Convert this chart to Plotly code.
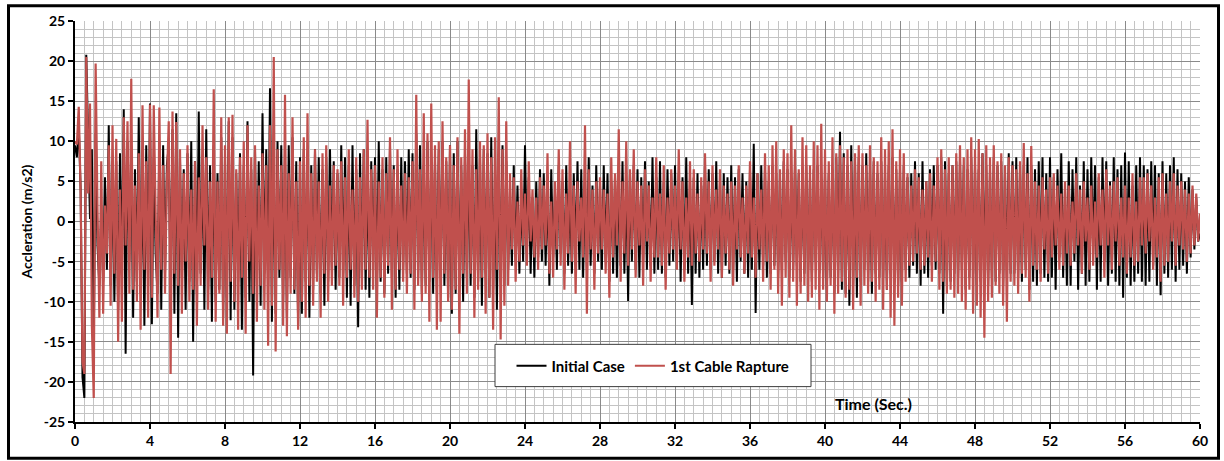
import numpy as np
import plotly.graph_objects as go

# Sampling step of the acceleration records (s)
dt = 0.1

# Acceleration (m/s2), initial case, one row per second of record
initial_case = [
    9.5, 8.0, 12.0, 4.0, -19.4, -22.0, 20.8, 11.0, 0.3, 9.0,
    -15.3, 11.0, -3.0, -8.0, 2.0, -7.5, 5.5, -6.0, 12.0, -8.0,
    6.0, -10.0, 7.5, -11.0, 8.5, -6.0, 14.0, -16.5, 10.0, -5.0,
    9.5, -12.0, 6.5, -7.5, 13.0, -9.0, 6.0, -13.0, 9.5, -8.0,
    14.7, -12.8, 8.0, -4.0, -9.0, 10.0, -11.0, 9.5, -6.5, 7.0,
    9.5, -8.5, 11.5, -11.5, 13.5, -14.5, 8.0, -7.0, 6.5, -11.0,
    8.5, -7.5, 10.0, -15.0, 7.5, -9.0, 13.7, -6.5, 8.0, -11.0,
    11.5, -8.5, 7.0, -12.5, 9.5, -10.0, 6.0, -8.5, 10.5, -12.0,
    8.0, -9.5, 12.5, -12.3, 10.5, -11.0, 6.0, -7.5, 8.5, -13.5,
    7.0, -9.5, 12.5, -10.0, 6.5, -19.2, 9.0, -8.0, 7.5, -10.5,
    13.5, -6.5, 9.0, -8.0, 16.6, -12.5, 8.0, -11.5, 10.0, -7.0,
    9.5, -10.0, 8.5, -12.0, 9.5, -7.0, 10.5, -9.0, 7.5, -13.0,
    8.0, -11.5, 9.0, -7.5, 8.5, -12.0, 7.0, -8.5, 9.0, -6.5,
    8.0, -9.0, 6.5, -10.5, 8.0, -7.5, 9.0, -6.0, 7.5, -8.5,
    6.0, -7.0, 9.5, -6.5, 8.0, -9.5, 7.0, -10.5, 9.5, -8.0,
    6.5, -13.2, 8.5, -7.0, 9.0, -8.5, 6.5, -9.5, 7.5, -6.0,
    8.0, -8.5, 10.0, -7.5, 6.5, -9.0, 8.0, -6.5, 9.5, -7.0,
    7.0, -9.5, 6.5, -8.5, 8.0, -6.0, 7.5, -6.5, 9.0, -7.0,
    8.5, -8.5, 11.0, -7.0, 9.5, -9.0, 7.0, -8.0, 10.0, -7.5,
    8.0, -9.0, 7.5, -8.5, 9.0, -7.0, 10.0, -8.0, 7.5, -9.5,
    9.5, -11.5, 8.5, -9.0, 10.0, -8.0, 7.0, -10.0, 8.5, -7.0,
    8.5, -8.0, 7.0, -9.5, 11.5, -7.5, 8.0, -10.5, 9.0, -6.5,
    8.5, -9.5, 10.5, -8.5, 6.5, -11.0, 8.0, -7.5, 9.5, -8.0,
    7.5, -6.0, 4.0, -5.5, 7.0, -5.0, 4.5, -6.5, 3.5, -5.0,
    9.5, -4.0, 5.5, -6.5, 3.0, -7.0, 5.0, -4.5, 6.5, -5.0,
    6.0, -5.5, 4.5, -8.0, 6.5, -4.5, 3.5, -6.0, 7.0, -4.0,
    5.0, -6.5, 7.0, -5.5, 4.0, -6.5, 6.0, -4.5, 7.5, -6.0,
    6.5, -7.0, 5.0, -6.0, 8.0, -5.5, 4.5, -6.5, 7.0, -5.0,
    4.5, -6.0, 7.0, -5.0, 6.0, -7.5, 5.0, -6.5, 5.5, -7.0,
    6.0, -5.5, 7.5, -6.5, 5.0, -9.9, 6.0, -5.0, 7.0, -6.0,
    6.5, -7.0, 5.5, -5.0, 7.5, -6.0, 5.0, -5.5, 8.0, -6.5,
    5.5, -6.0, 7.5, -6.5, 5.0, -7.0, 6.5, -5.5, 6.0, -5.0,
    7.0, -5.0, 6.0, -7.5, 5.5, -6.0, 8.0, -6.5, 5.5, -10.4,
    5.5, -6.5, 6.0, -7.0, 4.5, -6.0, 7.0, -5.5, 6.5, -6.0,
    6.0, -5.0, 7.5, -6.5, 5.0, -7.0, 6.0, -5.5, 5.5, -6.5,
    7.0, -6.0, 5.5, -7.5, 6.5, -5.0, 6.0, -6.5, 5.0, -7.0,
    6.5, -6.0, 9.7, -11.4, 6.0, -6.0, 7.0, -5.5, 6.5, -7.0,
    5.0, -6.5, 7.0, -5.5, 6.0, -7.0, 5.5, -6.0, 7.5, -5.0,
    6.5, -7.0, 5.0, -6.0, 7.0, -5.5, 6.0, -7.5, 5.5, -6.5,
    7.0, -6.0, 5.5, -7.5, 6.5, -5.0, 7.0, -6.5, 5.0, -7.0,
    6.0, -8.5, 6.0, -7.0, 6.5, -9.0, 8.0, -7.0, 11.2, -8.5,
    8.5, -9.0, 7.0, -10.5, 9.5, -8.0, 7.5, -9.5, 8.0, -7.5,
    7.0, -6.0, 8.5, -7.5, 6.5, -9.0, 7.5, -6.5, 6.0, -7.0,
    7.5, -7.0, 6.0, -8.5, 7.0, -6.5, 8.0, -7.5, 6.5, -8.0,
    6.5, -7.5, 7.0, -6.0, 5.5, -7.0, 6.0, -5.5, 7.5, -6.5,
    6.0, -8.0, 7.5, -6.5, 5.0, -7.0, 6.5, -5.5, 7.0, -6.0,
    7.0, -6.5, 8.0, -11.5, 7.5, -8.0, 6.0, -7.5, 7.0, -6.5,
    7.5, -7.0, 8.0, -6.0, 7.0, -8.5, 6.5, -7.0, 8.0, -6.5,
    7.0, -8.0, 6.5, -7.5, 8.5, -6.0, 7.0, -8.0, 6.5, -7.0,
    8.0, -7.5, 7.0, -6.5, 7.5, -8.0, 6.0, -7.0, 8.5, -6.5,
    7.5, -6.5, 8.0, -7.0, 6.5, -7.5, 7.0, -6.0, 8.0, -8.5,
    7.0, -7.5, 6.5, -8.0, 7.5, -6.5, 8.0, -7.0, 6.0, -7.5,
    8.0, -7.0, 5.5, -8.5, 6.5, -4.5, 8.5, -7.0, 4.0, -8.0,
    7.5, -8.0, 6.5, -5.0, 8.0, -8.5, 4.5, -6.5, 7.5, -8.0,
    6.5, -7.5, 8.0, -4.0, 7.0, -8.5, 5.5, -7.5, 8.0, -5.0,
    7.5, -8.0, 5.0, -6.5, 8.0, -7.5, 6.5, -8.0, 7.0, -9.5,
    8.6, -7.0, 7.5, -8.0, 4.5, -7.5, 7.0, -6.5, 8.0, -7.5,
    7.0, -8.0, 6.5, -7.5, 7.5, -5.5, 7.0, -8.0, 6.0, -9.2,
    7.5, -6.5, 6.0, -7.0, 7.0, -6.0, 8.0, -7.5, 6.5, -6.0,
    6.0, -5.5, 5.0, -6.5, 5.5, -4.5, 4.0, -3.5, 3.0, -2.5,
    -1.5,
]

# Acceleration (m/s2) after the first cable rupture, one row per second
cable_rapture = [
    10.0, 9.6, 14.3, 3.7, -17.5, -19.0, 20.5, 3.5, 14.7, -13.0,
    -22.0, 19.7, 1.5, -12.0, 7.5, -11.5, 2.0, -4.0, 9.5, -10.5,
    12.0, -6.5, 10.3, -15.0, 4.0, -12.5, 13.0, -3.0, 12.5, -9.0,
    17.8, -8.5, 4.5, -10.0, 8.5, -13.5, 14.5, -6.0, 7.5, -12.0,
    14.6, -9.5, 14.5, 2.0, -12.0, 14.2, -6.0, 7.0, -9.0, 5.0,
    12.5, -19.0, 13.7, -6.5, 12.4, -8.0, 9.0, -11.5, 6.0, -5.0,
    9.5, -10.0, 4.0, -8.5, 7.5, -13.0, 5.5, -8.0, 12.0, -3.0,
    8.0, -11.0, 5.0, -7.0, 16.5, -12.5, 5.0, -9.0, 13.0, -13.0,
    9.5, -14.0, 13.0, -7.5, 13.3, -10.0, 6.5, -13.5, 8.0, -7.0,
    10.0, -14.0, 12.0, -5.0, 8.0, -9.0, 9.5, -12.5, 4.5, -8.0,
    8.5, -11.0, 7.0, -15.5, 12.0, -10.5, 20.5, -16.2, 9.0, -6.0,
    7.0, -13.0, 15.8, -14.3, 6.0, -9.0, 13.0, -8.5, 5.0, -13.5,
    7.5, -10.0, 10.5, -12.0, 13.5, -8.0, 6.0, -10.5, 9.0, -7.5,
    5.0, -12.0, 8.5, -6.5, 9.5, -10.0, 4.5, -8.0, 7.0, -5.5,
    6.5, -8.0, 7.5, -10.5, 5.5, -7.0, 9.0, -6.0, 4.0, -9.5,
    8.0, -10.0, 5.5, -8.5, 9.0, -6.0, 12.7, -7.0, 6.5, -8.5,
    7.0, -12.0, 5.0, -7.0, 8.0, -9.5, 6.0, -5.5, 10.5, -11.0,
    6.5, -8.5, 9.0, -6.0, 4.5, -7.5, 6.0, -9.0, 5.5, -6.5,
    7.5, -11.0, 15.8, -8.0, 6.5, -10.0, 13.5, -9.0, 11.0, -12.5,
    14.7, -7.0, 9.5, -13.5, 10.0, -12.5, 12.5, -6.5, 8.0, -10.0,
    9.5, -11.0, 7.0, -8.5, 10.5, -14.0, 8.0, -6.5, 11.5, -9.0,
    17.7, -6.5, 9.0, -12.0, 6.5, -8.5, 10.0, -7.0, 9.5, -11.5,
    11.0, -9.5, 8.0, -13.5, 10.5, -6.0, 15.5, -14.7, 9.0, -10.5,
    12.5, -8.0, 6.0, -3.5, 5.5, -7.5, 2.5, -5.0, 6.5, -3.0,
    3.5, -5.5, 7.5, -2.5, 4.0, -4.5, 3.0, -6.0, 5.5, -3.5,
    4.5, -3.0, 8.5, -6.5, 2.5, -7.0, 5.0, -3.5, 9.0, -5.5,
    6.5, -8.5, 3.5, -4.0, 10.0, -5.0, 4.5, -9.0, 5.0, -2.5,
    3.0, -4.5, 12.0, -11.5, 6.5, -3.5, 4.0, -8.5, 5.0, -4.0,
    5.5, -3.5, 4.0, -6.5, 3.5, -9.5, 8.0, -4.5, 6.0, -3.0,
    11.5, -7.5, 5.0, -4.0, 10.0, -5.5, 6.5, -3.5, 9.0, -7.0,
    5.0, -3.0, 4.5, -8.0, 6.5, -2.5, 4.5, -7.5, 3.0, -4.5,
    8.0, -4.5, 3.5, -5.5, 7.0, -8.5, 3.0, -4.0, 6.5, -3.5,
    4.5, -6.0, 9.0, -3.5, 5.0, -7.5, 3.0, -4.5, 7.5, -5.5,
    6.5, -4.0, 3.5, -5.0, 5.5, -3.5, 8.5, -4.0, 5.0, -7.5,
    7.0, -5.5, 4.0, -3.5, 6.5, -7.0, 4.5, -4.0, 3.5, -6.0,
    5.0, -8.0, 4.5, -3.5, 7.0, -4.5, 3.0, -6.5, 4.5, -4.0,
    7.5, -4.5, 3.0, -7.0, 6.0, -3.5, 4.0, -7.5, 8.5, -5.0,
    7.0, -8.5, 9.5, -6.0, 10.0, -9.0, 6.5, -10.5, 9.0, -7.0,
    8.5, -9.5, 12.0, -7.5, 9.0, -10.5, 6.5, -9.0, 10.5, -8.0,
    9.5, -10.0, 7.0, -9.5, 10.0, -8.5, 9.5, -11.0, 12.2, -8.5,
    9.0, -10.0, 7.5, -8.0, 10.5, -11.5, 8.5, -9.0, 9.5, -7.5,
    8.0, -9.5, 9.0, -8.5, 7.5, -11.0, 8.5, -7.0, 9.5, -10.5,
    8.5, -8.0, 7.0, -9.0, 9.5, -7.5, 8.0, -10.0, 7.5, -8.5,
    10.5, -11.0, 9.0, -8.5, 10.0, -12.0, 11.5, -13.0, 7.5, -9.5,
    9.0, -10.5, 8.5, -7.5, 6.0, -5.5, 4.5, -5.0, 6.5, -4.0,
    5.5, -6.0, 4.0, -5.5, 5.0, -4.5, 6.0, -7.5, 4.5, -5.0,
    8.0, -8.5, 9.0, -7.5, 6.5, -9.0, 8.0, -8.5, 7.0, -9.5,
    8.5, -9.0, 9.5, -10.0, 8.0, -11.0, 9.0, -8.5, 10.5, -11.5,
    9.0, -10.5, 10.3, -12.0, 8.5, -14.5, 9.5, -10.0, 8.0, -9.5,
    9.5, -8.0, 7.5, -9.0, 8.5, -10.5, 7.0, -12.5, 8.0, -7.5,
    7.0, -8.0, 6.5, -9.0, 7.5, -6.5, 9.8, -7.0, 6.0, -10.0,
    9.4, -5.5, 5.0, -6.0, 4.5, -7.5, 5.5, -3.5, 4.0, -6.5,
    5.5, -4.5, 6.0, -3.0, 4.5, -6.0, 3.5, -5.5, 5.0, -4.0,
    4.5, -5.5, 2.5, -4.0, 6.0, -3.0, 4.0, -6.5, 5.0, -2.5,
    3.0, -6.0, 4.5, -5.5, 2.5, -4.5, 6.0, -3.0, 4.0, -7.0,
    6.5, -3.0, 4.5, -6.0, 5.0, -2.5, 5.5, -5.5, 3.0, -4.5,
    4.5, -6.5, 3.0, -4.5, 6.0, -5.5, 2.5, -5.0, 5.5, -3.0,
    5.5, -4.0, 6.0, -2.5, 4.5, -6.0, 3.0, -4.5, 5.5, -7.5,
    6.0, -5.5, 3.5, -5.0, 5.0, -2.5, 6.0, -5.5, 4.5, -3.0,
    5.0, -3.5, 4.0, -5.0, 3.5, -4.0, 4.5, -3.0, 3.5, -2.5,
    1.0,
]

assert len(initial_case) == len(cable_rapture) == 601

time = np.round(np.arange(len(initial_case)) * dt, 2)

x_ticks = list(range(0, 61, 4))
y_ticks = list(range(-25, 26, 5))

FONT = "Lato"
BLACK = "#000000"
RED = "#C0504D"

fig = go.Figure()
fig.add_trace(go.Scatter(
    x=time, y=initial_case, mode="lines", name="Initial Case",
    line=dict(color=BLACK, width=2.0),
))
fig.add_trace(go.Scatter(
    x=time, y=cable_rapture, mode="lines", name="1st Cable Rapture",
    line=dict(color=RED, width=2.2),
))

# Plot-area geometry in pixels, used to place paper-referenced decorations
W, H = 1224, 461
L, R, T, B = 75, 24, 19, 34
pw, ph = W - L - R, H - T - B


def px(xp):
    return (xp - L) / pw


def py(yp):
    return (H - B - yp) / ph


fig.update_layout(
    width=W, height=H,
    margin=dict(l=L, r=R, t=T, b=B),
    paper_bgcolor="white", plot_bgcolor="white",
    font=dict(family=FONT, size=14, color="black", weight="bold"),
    showlegend=True,
    legend=dict(
        orientation="h", x=px(653), y=py(370), xanchor="center", yanchor="middle",
        bgcolor="rgba(0,0,0,0)", borderwidth=0,
        font=dict(family=FONT, size=15, color="black", weight="bold"),
        itemwidth=30, traceorder="normal",
    ),
    xaxis=dict(
        range=[0, 60], tickvals=x_ticks, ticktext=[str(v) for v in x_ticks],
        showgrid=True, gridcolor="#8a8a8a", gridwidth=1,
        minor=dict(dtick=0.5, showgrid=True, gridcolor="#c4c4c4", gridwidth=1, ticks=""),
        showline=True, linecolor="black", linewidth=2,
        ticks="outside", ticklen=5, tickwidth=2, tickcolor="black",
        zeroline=False, tickfont=dict(family=FONT, size=14, weight="bold"),
    ),
    yaxis=dict(
        range=[-25, 25], tickvals=y_ticks, ticktext=[str(v) for v in y_ticks],
        showgrid=True, gridcolor="#8a8a8a", gridwidth=1,
        minor=dict(dtick=1, showgrid=True, gridcolor="#c4c4c4", gridwidth=1, ticks=""),
        showline=True, linecolor="black", linewidth=2,
        ticks="outside", ticklen=5, tickwidth=2, tickcolor="black",
        zeroline=False, tickfont=dict(family=FONT, size=14, weight="bold"),
        title=dict(text="Accleration (m/s2)", standoff=8,
                   font=dict(family=FONT, size=14, weight="bold")),
    ),
    shapes=[
        # legend box
        dict(type="rect", xref="paper", yref="paper",
             x0=px(495), x1=px(811), y0=py(391), y1=py(348),
             line=dict(color="#3c3c3c", width=1), fillcolor="white", layer="above"),
        # outer frame of the chart
        dict(type="rect", xref="paper", yref="paper",
             x0=px(8.5), x1=px(1218.5), y0=py(464), y1=py(3.5),
             line=dict(color="black", width=3), fillcolor="rgba(0,0,0,0)", layer="above"),
    ],
    annotations=[
        dict(text="Time (Sec.)", xref="paper", yref="paper",
             x=px(873), y=py(408), xanchor="center", yanchor="middle",
             showarrow=False, font=dict(family=FONT, size=16, weight="bold")),
    ],
)

fig.write_html("out.html")
